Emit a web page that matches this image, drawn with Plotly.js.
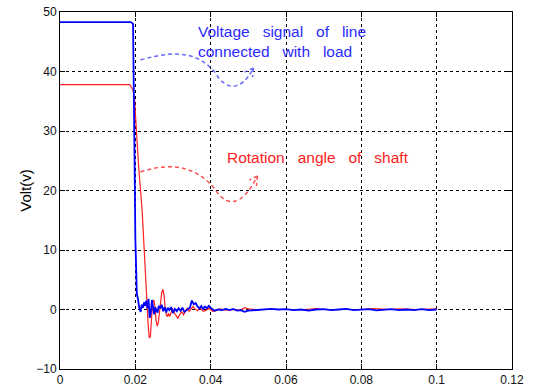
<!DOCTYPE html>
<html>
<head>
<meta charset="utf-8">
<script src="https://cdn.plot.ly/plotly-3.0.1.min.js"></script>
<style>body{margin:0;background:#fff}#chart{width:533px;height:388px}</style>
</head>
<body>
<div id="chart"></div>
<script>
// Voltage signal of line connected with load (blue)
var blueT = [0, 0.0188, 0.0194, 0.0196, 0.0198, 0.0200, 0.0202, 0.0204, 0.0207, 0.0210, 0.0214, 0.0217, 0.0220, 0.0223, 0.0226, 0.0229, 0.0232, 0.0235, 0.0238, 0.0241, 0.0244, 0.0247, 0.0250, 0.0253, 0.0256, 0.0259, 0.0262, 0.0266, 0.0270, 0.0274, 0.0278, 0.0282, 0.0286, 0.0290, 0.0295, 0.0300, 0.0305, 0.0310, 0.0315, 0.0320, 0.0325, 0.0330, 0.0335, 0.0340, 0.0345, 0.0350, 0.0355, 0.0360, 0.0365, 0.0370, 0.0375, 0.0380, 0.0385, 0.0390, 0.0395, 0.0400, 0.0405, 0.0410, 0.0420, 0.0430, 0.0440, 0.0450, 0.0460, 0.0470, 0.0480, 0.0490, 0.0500, 0.0520, 0.0540, 0.0560, 0.0580, 0.0600, 0.0620, 0.0640, 0.0660, 0.0680, 0.0700, 0.0720, 0.0740, 0.0760, 0.0780, 0.0800, 0.0820, 0.0840, 0.0860, 0.0880, 0.0900, 0.0920, 0.0940, 0.0960, 0.0980, 0.1000];
var blueV = [48.3, 48.3, 48.0, 40, 25, 12, 5, 2.6, 1.8, 0.4, -0.4, 0.8, 0.3, 1.2, 0.6, 1.5, 0.2, 1.8, -1.4, -0.6, 1.6, 0.3, -0.8, 0.4, -0.3, -0.5, 0.6, 0.2, 0.8, -0.3, 0.4, -0.5, 0.3, -0.1, 0.4, -0.6, 0.1, -0.3, 0.2, -0.2, 0.3, -0.4, -0.2, 0.1, 0.3, 1.5, 0.9, 1.1, 0.5, 0.2, 0.6, 0.1, 0.5, 0.2, 0.6, 0.3, 0.1, -0.2, 0.0, -0.1, 0.1, -0.1, 0.1, -0.2, -0.1, -0.4, -0.2, -0.1, 0.0, 0.1, 0.0, 0.05, -0.1, 0.0, -0.2, 0.0, 0.05, -0.1, 0.0, 0.1, -0.1, 0.0, 0.05, -0.15, 0.0, 0.05, -0.1, 0.0, -0.1, 0.05, -0.1, 0.0];

// Rotation angle of shaft (red)
var redT = [0, 0.0185, 0.0194, 0.0198, 0.0203, 0.0209, 0.0218, 0.0224, 0.0230, 0.0234, 0.0237, 0.0240, 0.0243, 0.0246, 0.0249, 0.0252, 0.0255, 0.0258, 0.0261, 0.0264, 0.0267, 0.0270, 0.0273, 0.0276, 0.0279, 0.0282, 0.0285, 0.0288, 0.0291, 0.0295, 0.0299, 0.0303, 0.0308, 0.0313, 0.0318, 0.0323, 0.0328, 0.0333, 0.0338, 0.0343, 0.0348, 0.0353, 0.0358, 0.0365, 0.0372, 0.0380, 0.0388, 0.0396, 0.0405, 0.0415, 0.0425, 0.0440, 0.0460, 0.0480, 0.0490, 0.0500, 0.0520, 0.0550, 0.0600, 0.0650, 0.0680, 0.0700, 0.0750, 0.0800, 0.0830, 0.0850, 0.0880, 0.0900, 0.0950, 0.1000];
var redV = [37.8, 37.8, 36.9, 35.2, 30, 23.8, 16.7, 9, 2.1, -2.5, -4.8, -4.5, -1.5, 1.2, 1.6, 0.5, -1.8, -2.8, -2.2, -0.5, 1.5, 2.8, 3.4, 2.5, 0.5, -0.8, -1.2, -0.6, -1.2, -0.3, 0.2, -0.5, -1.0, -1.5, -0.8, -0.4, -0.9, -0.2, 0.3, -0.3, 0.2, 0.5, 0.1, -0.2, 0.3, -0.3, -0.1, 0.2, -0.3, -0.2, 0.1, -0.1, 0.0, -0.1, 0.3, 0.1, 0.0, 0.0, 0.0, 0.0, 0.15, 0.0, 0.0, 0.0, 0.15, 0.1, 0.0, 0.1, 0.0, 0.1];

var xTicks = [0, 0.02, 0.04, 0.06, 0.08, 0.1, 0.12];
var xTickText = ['0', '0.02', '0.04', '0.06', '0.08', '0.1', '0.12'];
var yTicks = [-10, 0, 10, 20, 30, 40, 50];

var yTitle = 'Volt(v)';
var blueLabel = 'Voltage\u00A0\u00A0 signal\u00A0\u00A0 of\u00A0\u00A0 line<br>connected\u00A0\u00A0 with\u00A0\u00A0 load';
var redLabel = 'Rotation\u00A0\u00A0 angle\u00A0\u00A0 of\u00A0\u00A0 shaft';

var traces = [
  {x: redT, y: redV, type: 'scatter', mode: 'lines', line: {color: '#ff2020', width: 1.2}, hoverinfo: 'skip'},
  {x: blueT, y: blueV, type: 'scatter', mode: 'lines', line: {color: '#0000ff', width: 1.8}, hoverinfo: 'skip'}
];

var axisCommon = {
  showline: true, linecolor: '#000', linewidth: 1, mirror: 'ticks',
  ticks: 'inside', ticklen: 5, tickcolor: '#000',
  showgrid: true, gridcolor: '#000', gridwidth: 1, griddash: '3px,3px',
  zeroline: false,
  tickfont: {family: 'Liberation Sans, Arial, sans-serif', size: 12, color: '#111'}
};

var layout = {
  width: 533, height: 388,
  margin: {l: 60, r: 21, t: 12, b: 19},
  paper_bgcolor: '#fff', plot_bgcolor: '#fff',
  showlegend: false,
  xaxis: Object.assign({}, axisCommon, {range: [0, 0.12], tickvals: xTicks, ticktext: xTickText}),
  yaxis: Object.assign({}, axisCommon, {range: [-10, 50], tickvals: yTicks,
    title: {text: yTitle, font: {family: 'Liberation Sans, Arial, sans-serif', size: 15, color: '#000'}, standoff: 0}}),
  shapes: [
    {type: 'path', xref: 'x', yref: 'y',
     path: 'M 0.02137,41.93 C 0.03199,43.95 0.0373,42.77 0.04128,39.75 C 0.04393,36.89 0.04792,36.39 0.05137,40.59 M 0.05137,40.59 L 0.04898,39.92 M 0.05137,40.59 L 0.0511,39.08',
     line: {color: '#6a6aff', width: 1.5, dash: '4px,3px'}},
    {type: 'path', xref: 'x', yref: 'y',
     path: 'M 0.02137,23.11 C 0.03066,25.13 0.0373,23.45 0.04128,20.08 C 0.04393,17.56 0.04792,16.72 0.05243,22.44 M 0.05243,22.44 L 0.05031,21.76 M 0.05243,22.44 L 0.05216,20.76',
     line: {color: '#ff5050', width: 1.5, dash: '4px,3px'}}
  ],
  annotations: [
    {xref: 'x', yref: 'y', x: 0.0360, y: 45.0, xanchor: 'left', yanchor: 'middle', showarrow: false,
     text: blueLabel, align: 'left',
     font: {family: 'Liberation Sans, Arial, sans-serif', size: 15.5, color: '#2a2aff'}},
    {xref: 'x', yref: 'y', x: 0.0437, y: 25.5, xanchor: 'left', yanchor: 'middle', showarrow: false,
     text: redLabel, align: 'left',
     font: {family: 'Liberation Sans, Arial, sans-serif', size: 15.5, color: '#ff2020'}}
  ]
};

Plotly.newPlot('chart', traces, layout, {displayModeBar: false, staticPlot: true});
</script>
</body>
</html>
